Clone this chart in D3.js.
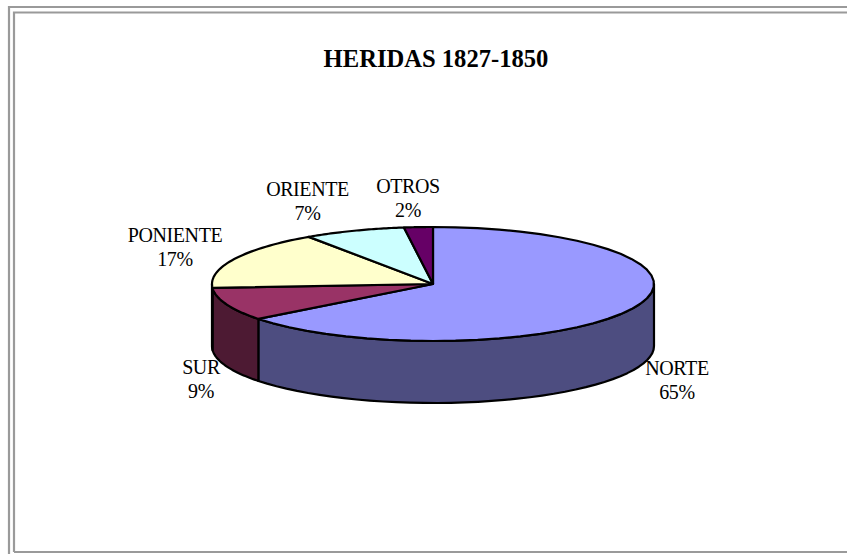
<!DOCTYPE html>
<html><head><meta charset="utf-8">
<script src="https://cdn.jsdelivr.net/npm/d3@7"></script>
<style>html,body{margin:0;padding:0;background:#fff;overflow:hidden}svg{display:block}</style>
</head><body><div id="c"></div>
<script>
const categories = ["NORTE","SUR","PONIENTE","ORIENTE","OTROS"];
const values = [64.5,9.4,16.6,7.4,2.1];
const topColors = ["#9999ff","#993366","#ffffcc","#ccffff","#660066"];
const sideColors = ["#4d4d80","#4d1a33","#808066","#668080","#330033"];
const title = "HERIDAS 1827-1850";

const W=847,H=554;
const svg=d3.select("#c").append("svg").attr("width",W).attr("height",H);

// frame
const frame=[[[9,554],[9,7],[847,7]],[[14,552],[14,12.5],[847,12.5]],[[14,552],[847,552]]];
svg.selectAll("path.frame").data(frame).join("path").attr("class","frame")
  .attr("d",d3.line()).attr("fill","none").attr("stroke","#9a9a9a").attr("stroke-width",2.2);

svg.append("text").attr("x",436).attr("y",67).attr("text-anchor","middle")
  .attr("font-family","Liberation Serif").attr("font-weight","bold").attr("font-size",24.6).attr("fill","#000").text(title);

const cx=433,cy=284,rx=221,ry=57,depth=62;
const px=d3.scaleLinear().domain([-1,1]).range([cx-rx,cx+rx]);
const py=d3.scaleLinear().domain([-1,1]).range([cy-ry,cy+ry]);
const pie=d3.pie().sort(null).value(d=>d)(values);
const line=d3.line();
const pt=(t,dz=0)=>[px(Math.sin(t)),py(-Math.cos(t))+dz];
const samples=(a,b,dz=0)=>d3.range(0,41).map(i=>pt(a+(b-a)*i/40,dz));

// walls: only the front half of the rim is visible
const walls=pie.map((d,i)=>{
  const a=Math.max(d.startAngle,Math.PI/2),b=Math.min(d.endAngle,3*Math.PI/2);
  return a<b?{i,a,b}:null;}).filter(Boolean);
svg.selectAll("path.wall").data(walls).join("path").attr("class","wall")
  .attr("d",d=>line(samples(d.a,d.b).concat(samples(d.b,d.a,depth)))+"Z")
  .attr("fill",d=>sideColors[d.i]).attr("stroke","#000").attr("stroke-width",2.2).attr("stroke-linejoin","round");

// top slices
svg.selectAll("path.slice").data(pie).join("path").attr("class","slice")
  .attr("d",d=>line([[px(0),py(0)]].concat(samples(d.startAngle,d.endAngle)))+"Z")
  .attr("fill",(d,i)=>topColors[i]).attr("stroke","#000").attr("stroke-width",2.2).attr("stroke-linejoin","round");

// labels
const labelPos=[[677,375],[201,374],[175,242],[307.5,196],[408,193]];
const lab=svg.selectAll("g.lab").data(categories).join("g").attr("class","lab")
  .attr("transform",(d,i)=>`translate(${labelPos[i]})`)
  .attr("font-family","Liberation Serif").attr("font-size",20).attr("letter-spacing",-0.4).attr("text-anchor","middle").attr("fill","#000");
lab.append("text").text(d=>d);
lab.append("text").attr("y",24).text((d,i)=>Math.round(values[i])+"%");
</script></body></html>
